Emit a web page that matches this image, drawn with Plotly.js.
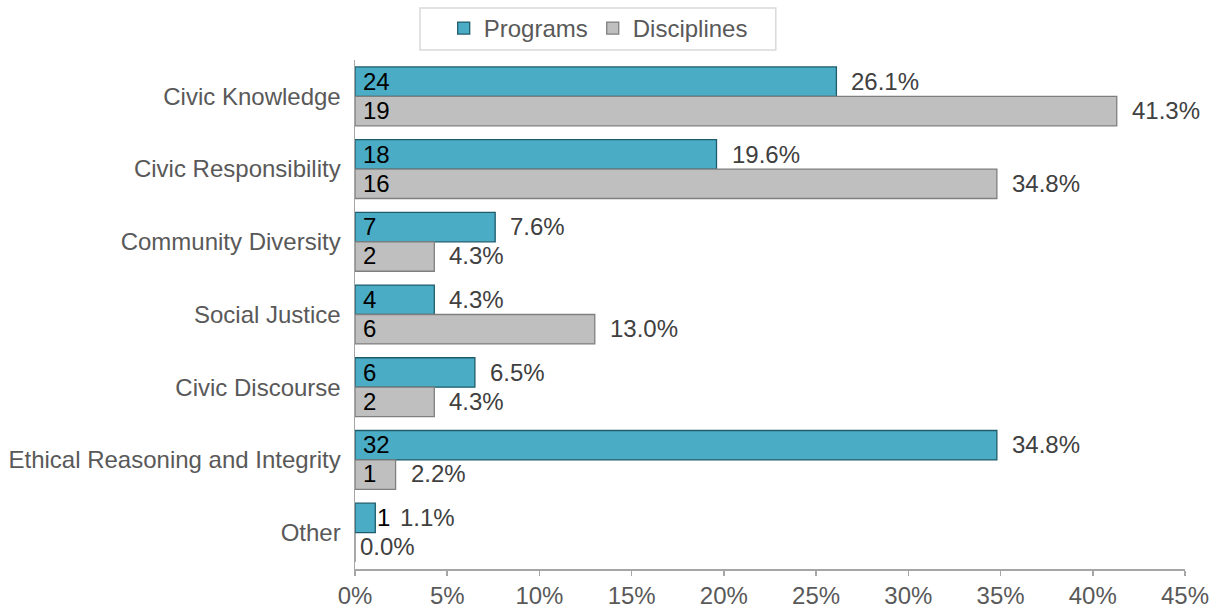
<!DOCTYPE html>
<html>
<head>
<meta charset="utf-8">
<script src="https://cdn.plot.ly/plotly-3.0.1.min.js"></script>
<style>html,body{margin:0;padding:0;background:#fff;}#chart{width:1220px;height:609px;}</style>
</head>
<body>
<div id="chart"></div>
<script>
var categories = ["Civic Knowledge", "Civic Responsibility", "Community Diversity", "Social Justice", "Civic Discourse", "Ethical Reasoning and Integrity", "Other"];
var programCounts = [24, 18, 7, 4, 6, 32, 1];
var programPct = [26.1, 19.6, 7.6, 4.3, 6.5, 34.8, 1.1];
var disciplineCounts = [19, 16, 2, 6, 2, 1, 0];
var disciplinePct = [41.3, 34.8, 4.3, 13.0, 4.3, 2.2, 0.0];
var xTicks = [0, 5, 10, 15, 20, 25, 30, 35, 40, 45];

var FONT = "Liberation Sans, Arial, sans-serif";
var FS = 24;

var traces = [
  {
    type: "bar", orientation: "h", name: "Programs",
    y: categories, x: programPct,
    marker: {color: "#4BACC6", line: {color: "#1F5C6B", width: 1.3}},
    hoverinfo: "skip"
  },
  {
    type: "bar", orientation: "h", name: "Disciplines",
    y: categories, x: disciplinePct,
    marker: {color: "#BFBFBF", line: {color: "#7F7F7F", width: 1.3}},
    hoverinfo: "skip"
  }
];

var annotations = [];
function addLabels(pcts, counts, offset) {
  pcts.forEach(function (v, i) {
    var small = v > 0 && v < 2;
    if (counts[i] > 0) {
      annotations.push({
        xref: "x", yref: "y", x: small ? v : 0, y: categories[i],
        text: String(counts[i]), showarrow: false,
        xanchor: "left", yanchor: "middle",
        xshift: small ? 0 : 6, yshift: offset,
        font: {family: FONT, size: FS, color: "#000000"}
      });
    }
    annotations.push({
      xref: "x", yref: "y", x: v, y: categories[i],
      text: v.toFixed(1) + "%", showarrow: false,
      xanchor: "left", yanchor: "middle",
      xshift: small ? 23 : (v === 0 ? 3 : 13),
      yshift: offset,
      font: {family: FONT, size: FS, color: "#404040"}
    });
  });
}
addLabels(programPct, programCounts, 15);
addLabels(disciplinePct, disciplineCounts, -14);

var layout = {
  width: 1220, height: 609,
  margin: {l: 355, r: 35, t: 60, b: 40, autoexpand: false},
  paper_bgcolor: "#ffffff", plot_bgcolor: "#ffffff",
  barmode: "group", bargap: 0.19, bargroupgap: 0,
  showlegend: true,
  legend: {
    orientation: "h", x: 0.293, xanchor: "center", y: 1.0177, yanchor: "bottom",
    borderwidth: 0, bgcolor: "rgba(0,0,0,0)",
    font: {family: FONT, size: FS, color: "#595959"},
    itemwidth: 30, tracegroupgap: 0
  },
  shapes: [{
    type: "rect", xref: "paper", yref: "paper",
    x0: 0.0783, x1: 0.507, y0: 1.0196, y1: 1.102,
    line: {color: "#D9D9D9", width: 1.5}, fillcolor: "rgba(0,0,0,0)", layer: "below"
  }],
  xaxis: {
    range: [0, 45], tickvals: xTicks, ticktext: xTicks.map(function (t) { return t + "%"; }),
    showgrid: false, zeroline: false,
    showline: true, linecolor: "#A6A6A6", linewidth: 1.5,
    ticks: "outside", ticklen: 5, tickcolor: "#A6A6A6", tickwidth: 1.5,
    tickfont: {family: FONT, size: FS, color: "#595959"},
    fixedrange: true
  },
  yaxis: {
    type: "category", categoryorder: "array", categoryarray: categories,
    autorange: "reversed",
    showgrid: false, zeroline: false,
    showline: true, linecolor: "#A6A6A6", linewidth: 1.5,
    ticks: "", ticklabelstandoff: 8,
    tickfont: {family: FONT, size: FS, color: "#595959"},
    fixedrange: true
  },
  annotations: annotations,
  font: {family: FONT}
};

Plotly.newPlot("chart", traces, layout, {displayModeBar: false, staticPlot: true});
</script>
</body>
</html>
